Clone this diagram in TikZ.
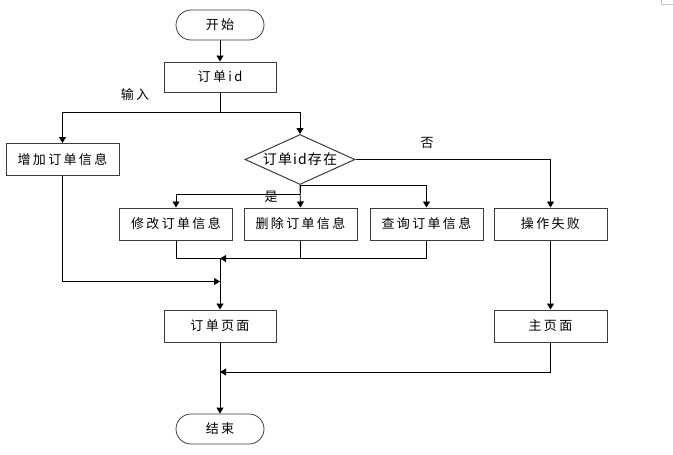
\documentclass[tikz,border=0pt]{standalone}
\usepackage{fontspec}
\setmainfont{Noto Sans CJK SC}
\newfontfamily\spaced[LetterSpace=18]{Noto Sans CJK SC}
\newfontfamily\lightspaced[LetterSpace=8]{Noto Sans CJK SC}
\usetikzlibrary{shapes.geometric,arrows.meta}
\definecolor{boxline}{RGB}{60,60,60}

\begin{document}
\begin{tikzpicture}[x=1pt,y=-1pt,
                    font=\fontsize{13}{15}\selectfont\spaced,
                    every path/.style={line width=0.8pt},
                    arr/.style={-{Triangle[width=7pt,length=6pt]}},
                    main box/.style={rectangle,draw=boxline,line width=1pt,
                                     minimum width=113pt,minimum height=32pt,inner sep=0pt},
                    term box/.style={rectangle,rounded corners=15pt,draw=boxline,line width=0.8pt,
                                     minimum width=88pt,minimum height=30pt,inner sep=0pt},
                    test box/.style={diamond,draw=boxline,line width=1pt,aspect=2.2,
                                     minimum width=110pt,minimum height=50pt,inner sep=0pt,
                                     font=\fontsize{14}{16}\selectfont\lightspaced}]

  \useasboundingbox (0,0) rectangle (673,455);
  \draw[gray!45,line width=0.6pt] (661,0) -- (661,4) -- (673,4);

  \node[term box] (start) at (220,25) {开始};
  \node[main box,minimum width=112pt,minimum height=30pt] (id) at (220,77) {订单id};
  \node[main box] (add) at (62.5,159.5) {增加订单信息};
  \node[test box] (cond) at (300,159.5) {订单id存在};
  \node[main box] (mod) at (176,224) {修改订单信息};
  \node[main box] (del) at (300.5,224) {删除订单信息};
  \node[main box] (qry) at (426.5,224) {查询订单信息};
  \node[main box] (fail) at (550.5,224) {操作失败};
  \node[main box,minimum width=112pt] (page) at (220,326) {订单页面};
  \node[main box] (home) at (550.5,326) {主页面};
  \node[term box] (end) at (220,429) {结束};

  \coordinate (split) at (220,112);
  \coordinate (yes) at (300,194);
  \coordinate (join) at (220,258.5);
  \coordinate (join2) at (220,281.5);
  \coordinate (back) at (220,372);

  % top part
  \draw[arr] (start) -- (id);
  \draw (id.south) -- (split);
  \draw[arr] (split) -| (add.north);
  \draw[arr] (split) -| (cond.north);
  \node at (135,95) {输入};

  % decision
  \draw[arr] (cond.east) -| (fail.north);
  \node at (427,143) {否};
  \draw (cond.south) -- (yes);
  \draw[arr] (yes) -| (mod.north);
  \draw[arr] (cond.south) -- (del.north);
  \draw[arr] (cond.south) -| (qry.north);
  \node at (271,196.5) {是};

  % merge back
  \draw (mod.south) |- (join) -| (qry.south);
  \draw[arr] (del.south) |- (join);
  \draw[arr] (add.south) |- (join2);
  \draw[arr] (join) -- (page.north);
  \draw[arr] (fail) -- (home);
  \draw[arr] (home.south) |- (back);
  \draw[arr] (page) -- (end);

\end{tikzpicture}
\end{document}
